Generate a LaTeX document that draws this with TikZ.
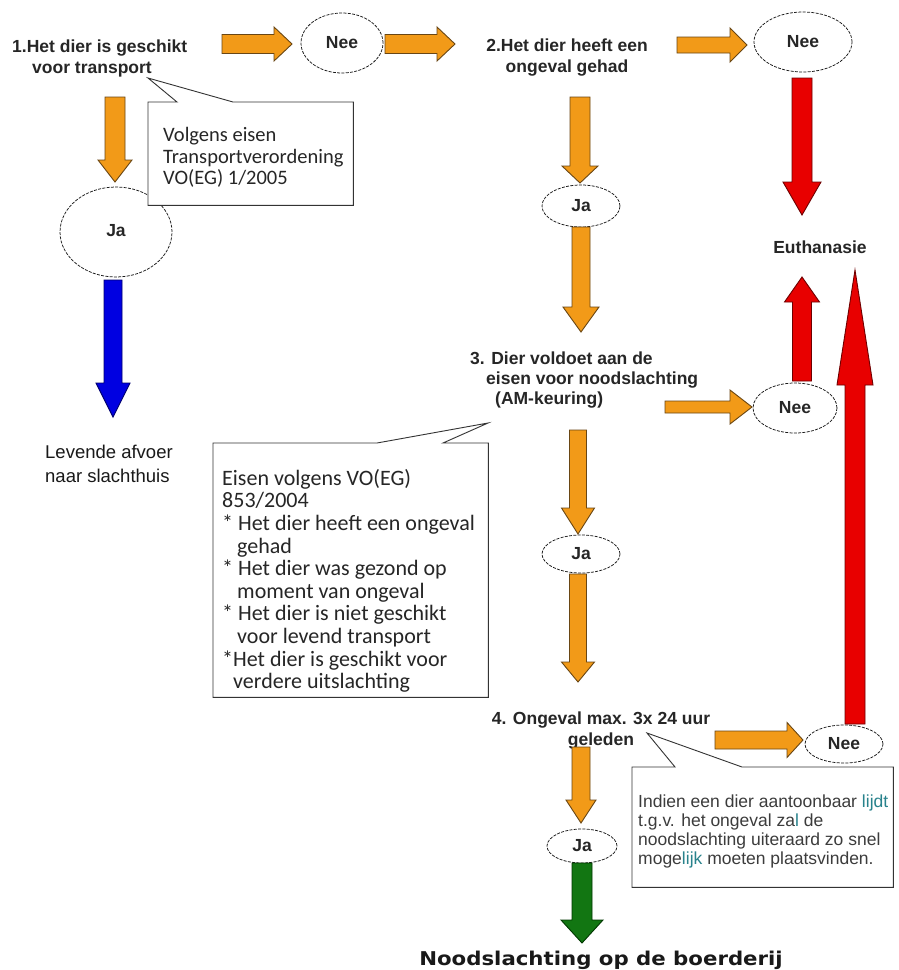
\documentclass[tikz,border=0pt]{standalone}
\usepackage{fontspec}
\setmainfont{Liberation Sans}
\newfontfamily\calfont{Carlito}
\newfontfamily\verdfont{DejaVu Sans}[FakeStretch=1.12]
\usetikzlibrary{calc,shapes.geometric}
\definecolor{orF}{RGB}{242,154,24}
\definecolor{orD}{RGB}{105,70,20}
\definecolor{rdF}{RGB}{232,0,0}
\definecolor{rdD}{RGB}{110,0,0}
\definecolor{blF}{RGB}{0,0,225}
\definecolor{blD}{RGB}{0,0,110}
\definecolor{grF}{RGB}{18,118,18}
\definecolor{grD}{RGB}{0,55,0}
\definecolor{txtgrey}{RGB}{60,60,60}
\definecolor{tealtxt}{RGB}{40,130,140}
% block arrow: #1 style, #2 from, #3 to, #4 shaft half width, #5 head half width, #6 head length
\newcommand{\barrow}[6]{%
  \draw[#1] ($(#2)!#4!90:(#3)$)
    -- ($($(#3)!#6!(#2)$)!#4!90:(#3)$)
    -- ($($(#3)!#6!(#2)$)!#5!90:(#3)$)
    -- (#3)
    -- ($($(#3)!#6!(#2)$)!#5!-90:(#3)$)
    -- ($($(#3)!#6!(#2)$)!#4!-90:(#3)$)
    -- ($(#2)!#4!-90:(#3)$) -- cycle;}
\tikzset{
  orarrow/.style={fill=orF, draw=orD, line width=0.9pt, line join=miter},
  rdarrow/.style={fill=rdF, draw=rdD, line width=0.9pt, line join=miter},
  blarrow/.style={fill=blF, draw=blD, line width=0.9pt, line join=miter},
  grarrow/.style={fill=grF, draw=grD, line width=0.9pt, line join=miter},
  oval/.style={ellipse, draw=black!90, dash pattern=on 3pt off 1.3pt, line width=0.75pt, inner sep=0pt,
    fill=white, text=black!85, font=\bfseries\fontsize{17.5}{20}\selectfont},
  lab/.style={inner sep=0pt, text=black!85, font=\bfseries\fontsize{17.5}{21}\selectfont},
  callbox/.style={draw=black!80, line width=0.9pt, fill=white, line join=miter},
  anchorbox/.style={inner sep=0pt, draw=none, anchor=north west},
}
\begin{document}
\begin{tikzpicture}[x=1pt,y=-1pt]
\useasboundingbox (0,0) rectangle (899,970);
\fill[white] (0,0) rectangle (899,970);

% ---------- ovals ----------
\node[oval, minimum width=82pt, minimum height=60pt] (nee1) at (342,43) {Nee};
\node[oval, minimum width=98pt, minimum height=60pt] (nee2) at (803,42) {Nee};
\node[oval, minimum width=78pt, minimum height=42pt] (ja2) at (581,206) {Ja};
\node[oval, minimum width=84pt, minimum height=50pt] (nee3) at (795,408) {Nee};
\node[oval, minimum width=112pt, minimum height=90pt] (ja1) at (116,232) {\raisebox{4pt}{Ja}};
\node[oval, minimum width=78pt, minimum height=38pt] (ja3) at (581,554) {Ja};
\node[oval, minimum width=78pt, minimum height=38pt] (nee4) at (844,744) {Nee};
\node[oval, minimum width=70pt, minimum height=34pt] (ja4) at (582,846) {Ja};

% ---------- labels ----------
\node[lab, anchor=north west, align=left] (l1) at (12,40)
  {1.Het dier is geschikt\\\hspace*{20pt}voor transport};
\node[lab, anchor=north, align=center] (l2) at (567,39)
  {2.Het dier heeft een\\ongeval gehad};
\node[lab, anchor=north west, align=left, font=\bfseries\fontsize{17.5}{20}\selectfont] (l3) at (470,352)
  {3. Dier voldoet aan de\\\hspace*{16pt}eisen voor noodslachting\\\hspace*{25pt}(AM-keuring)};
\node[lab, anchor=north, align=center] (l4) at (601,712)
  {4. Ongeval max. 3x 24 uur\\geleden};
\node[lab, anchor=base] (euth) at (820,253) {Euthanasie};
\node[inner sep=0pt, anchor=north west, align=left, text=black!90,
  font=\fontsize{18.5}{24}\selectfont] (lev) at (45,445) {Levende afvoer\\naar slachthuis};
\node[inner sep=0pt, anchor=base, text=black!90,
  font=\verdfont\bfseries\fontsize{19}{22}\selectfont] (boer) at (601,965) {Noodslachting op de boerderij};

% ---------- callout 1 ----------
\node[anchorbox, minimum width=205pt, minimum height=103pt] (c1) at (148,102) {};
\coordinate (c1tip) at (148,78);
\draw[callbox] (c1.north west) -- ($(c1.north west)+(29,0)$) -- (c1tip)
  -- ($(c1.north west)+(85,0)$) -- (c1.north east) -- (c1.south east) -- (c1.south west) -- cycle;
\node[inner sep=0pt, anchor=north west, align=left, text=black!85,
  font=\calfont\fontsize{20.5}{21.7}\selectfont] (c1t) at (163,127)
  {Volgens eisen\\Transportverordening\\VO(EG) 1/2005};

% ---------- callout 2 ----------
\node[anchorbox, minimum width=275pt, minimum height=254pt] (c2) at (213,443) {};
\coordinate (c2tip) at (488,423);
\draw[callbox] (c2.north west) -- ($(c2.north west)+(164,0)$) -- (c2tip)
  -- ($(c2.north west)+(230,0)$) -- (c2.north east) -- (c2.south east) -- (c2.south west) -- cycle;
\node[inner sep=0pt, anchor=north west, align=left, text=black!85,
  font=\calfont\fontsize{22}{22.6}\selectfont] (c2t) at (222,469)
  {Eisen volgens VO(EG)\\853/2004\\
   * Het dier heeft een ongeval\\\hspace*{15pt}gehad\\
   * Het dier was gezond op\\\hspace*{15pt}moment van ongeval\\
   * Het dier is niet geschikt\\\hspace*{15pt}voor levend transport\\
   *Het dier is geschikt voor\\\hspace*{11pt}verdere uitslachting};

% ---------- callout 3 ----------
\node[anchorbox, minimum width=261pt, minimum height=120pt] (c3) at (632,767) {};
\coordinate (c3tip) at (647,733);
\draw[callbox] (c3.north west) -- ($(c3.north west)+(43,0)$) -- (c3tip)
  -- ($(c3.north west)+(110,0)$) -- (c3.north east) -- (c3.south east) -- (c3.south west) -- cycle;
\node[inner sep=0pt, anchor=north west, align=left, text=txtgrey,
  font=\fontsize{17.5}{19}\selectfont] (c3t) at (638,795)
  {Indien een dier aantoonbaar \textcolor{tealtxt}{lijdt}\\
   t.g.v. het ongeval za\textcolor{tealtxt}{l} de\\
   noodslachting uiteraard zo snel\\
   moge\textcolor{tealtxt}{lijk} moeten plaatsvinden.};

% ---------- arrow end points ----------
\coordinate (a1s) at (222,44);  \coordinate (a1e) at (292,44);
\coordinate (a2s) at (385,44);  \coordinate (a2e) at (455,44);
\coordinate (a3s) at (677,45);  \coordinate (a3e) at (747,45);
\coordinate (r1s) at (802,78);  \coordinate (r1e) at (802,215);
\coordinate (o1s) at (580,97);  \coordinate (o1e) at (580,183);
\coordinate (o2s) at (581,227); \coordinate (o2e) at (581,332);
\coordinate (o6s) at (665,407); \coordinate (o6e) at (752,407);
\coordinate (r2s) at (802,381); \coordinate (r2e) at (802,277);
\coordinate (o3s) at (578,430); \coordinate (o3e) at (578,534);
\coordinate (o4s) at (578,574); \coordinate (o4e) at (578,682);
\coordinate (o7s) at (715,740); \coordinate (o7e) at (803,740);
\coordinate (r3s) at (855,724); \coordinate (r3e) at (855,270);
\coordinate (o5s) at (581,747); \coordinate (o5e) at (581,823);
\coordinate (g1s) at (582,863); \coordinate (g1e) at (582,943);
\coordinate (o8s) at (115,97);  \coordinate (o8e) at (115,182);
\coordinate (b1s) at (113,280); \coordinate (b1e) at (113,417);

% ---------- block arrows ----------
\barrow{orarrow}{a1s}{a1e}{9.5pt}{17pt}{18pt}
\barrow{orarrow}{a2s}{a2e}{9.5pt}{17pt}{18pt}
\barrow{orarrow}{a3s}{a3e}{8pt}{17pt}{17pt}
\barrow{rdarrow}{r1s}{r1e}{10pt}{19pt}{33pt}
\barrow{orarrow}{o1s}{o1e}{10pt}{18pt}{17pt}
\barrow{orarrow}{o2s}{o2e}{9pt}{18pt}{25pt}
\barrow{orarrow}{o6s}{o6e}{6pt}{17pt}{22pt}
\barrow{rdarrow}{r2s}{r2e}{9.5pt}{17.5pt}{25pt}
\barrow{orarrow}{o3s}{o3e}{8.5pt}{16.5pt}{26pt}
\barrow{orarrow}{o4s}{o4e}{8.5pt}{16.5pt}{20pt}
\barrow{orarrow}{o7s}{o7e}{9pt}{17.5pt}{16pt}
\barrow{rdarrow}{r3s}{r3e}{10pt}{18pt}{115pt}
\barrow{orarrow}{o5s}{o5e}{9pt}{15pt}{23pt}
\barrow{grarrow}{g1s}{g1e}{10pt}{21pt}{23pt}
\barrow{orarrow}{o8s}{o8e}{10pt}{17pt}{22pt}
\barrow{blarrow}{b1s}{b1e}{9pt}{17pt}{34pt}
\end{tikzpicture}
\end{document}
